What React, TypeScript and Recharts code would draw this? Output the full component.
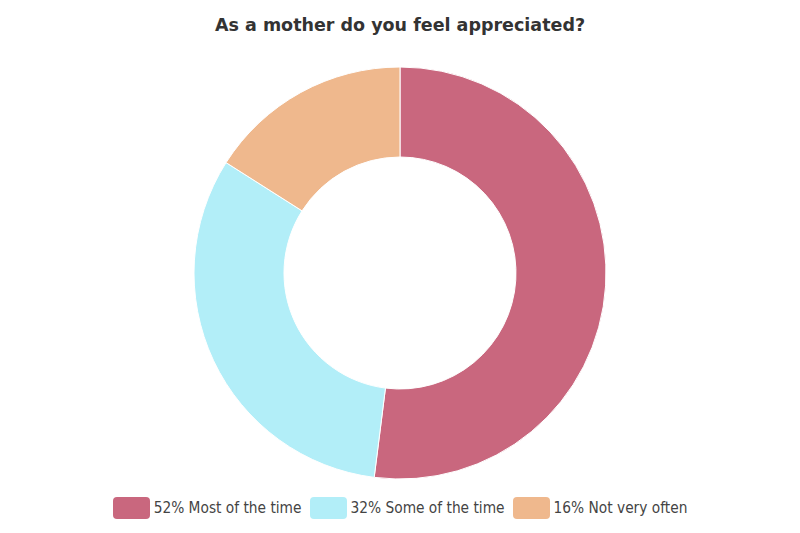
import { Cell, Legend, Pie, PieChart } from "recharts";

const labels = ["Most of the time", "Some of the time", "Not very often"];
const shares = [52, 32, 16];
const colors = ["#C9677E", "#B2EEF8", "#EFB88D"];

const data = labels.map((name, i) => ({ name, value: shares[i] }));

function LegendRow() {
  return (
    <div
      style={{
        display: "flex",
        justifyContent: "center",
        alignItems: "center",
        fontFamily: "'DejaVu Sans Condensed', 'DejaVu Sans', sans-serif",
        fontSize: 15.3,
        color: "#444",
      }}
    >
      {data.map((d, i) => (
        <div key={d.name} style={{ display: "flex", alignItems: "center", margin: "0 4px" }}>
          <span
            style={{
              display: "inline-block",
              width: 37,
              height: 22,
              borderRadius: 4,
              background: colors[i],
              marginRight: 4,
            }}
          />
          <span>
            {d.value}% {d.name}
          </span>
        </div>
      ))}
    </div>
  );
}

export default function App() {
  return (
    <div style={{ position: "absolute", left: 0, top: 0, width: 800, height: 533, background: "#fff" }}>
      <div
        style={{
          position: "absolute",
          top: 15,
          width: 800,
          textAlign: "center",
          fontFamily: "'DejaVu Sans', sans-serif",
          fontWeight: "bold",
          fontSize: 17.5,
          color: "#333",
        }}
      >
        As a mother do you feel appreciated?
      </div>
      <PieChart width={800} height={533} margin={{ top: 0, right: 0, bottom: 0, left: 0 }}>
        <Pie
          data={data}
          dataKey="value"
          nameKey="name"
          cx={400}
          cy={273}
          innerRadius={116}
          outerRadius={206}
          startAngle={90}
          endAngle={-270}
          stroke="#fff"
          strokeWidth={1}
          isAnimationActive={false}
        >
          {data.map((d, i) => (
            <Cell key={d.name} fill={colors[i]} />
          ))}
        </Pie>
        <Legend
          verticalAlign="bottom"
          wrapperStyle={{ bottom: 14 }}
          content={() => <LegendRow />}
        />
      </PieChart>
    </div>
  );
}
